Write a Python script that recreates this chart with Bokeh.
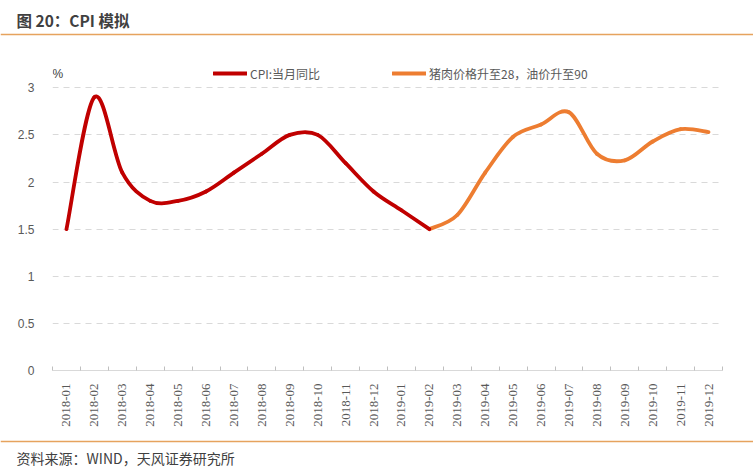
import numpy as np
from bokeh.plotting import figure
from bokeh.layouts import column
from bokeh.models import Range1d, FixedTicker, Label, Legend, LegendItem, Span
from bokeh.embed import file_html
from bokeh.resources import INLINE

# ---------------- data ----------------
months = ["2018-01", "2018-02", "2018-03", "2018-04", "2018-05", "2018-06",
          "2018-07", "2018-08", "2018-09", "2018-10", "2018-11", "2018-12",
          "2019-01", "2019-02", "2019-03", "2019-04", "2019-05", "2019-06",
          "2019-07", "2019-08", "2019-09", "2019-10", "2019-11", "2019-12"]
cpi_actual = [1.5, 2.9, 2.1, 1.8, 1.8, 1.9, 2.1, 2.3, 2.5, 2.5, 2.2, 1.9, 1.7, 1.5]
scenario_start = 13  # scenario starts at 2019-02
cpi_scenario = [1.5, 1.65, 2.1, 2.48, 2.61, 2.74, 2.3, 2.23, 2.43, 2.56, 2.53]
y_ticks = [0, 0.5, 1, 1.5, 2, 2.5, 3]
y_tick_labels = ["0", "0.5", "1", "1.5", "2", "2.5", "3"]
series_names = ["CPI:当月同比", "猪肉价格升至28，油价升至90"]
title_text = "图 20：CPI 模拟"
source_text = "资料来源：WIND，天风证券研究所"
unit_text = "%"

RED = "#C00000"
ORANGE = "#ED7D31"
GRAY_TXT = "#595959"
DARK_TXT = "#404040"
RULE = "#E6A35E"

W = 753
TOP_H, MAIN_H, BOT_H = 40, 396, 36
ML, MR, MT, MB = 52, 31, 19, 66
Y_TOP = 3.3


def blank_fig(h):
    f = figure(width=W, height=h, output_backend="svg", toolbar_location=None,
               x_range=Range1d(0, W), y_range=Range1d(h, 0),
               x_axis_location=None, y_axis_location=None,
               min_border=0, min_border_left=0, min_border_right=0,
               min_border_top=0, min_border_bottom=0)
    f.frame_align = False
    f.outline_line_color = None
    f.grid.visible = False
    f.background_fill_color = "white"
    f.border_fill_color = "white"
    return f


# ---------------- header ----------------
top = blank_fig(TOP_H)
top.add_layout(Label(x=16, y=19, text=title_text, text_font="Noto Sans CJK SC",
                     text_font_size="15.5px", text_font_style="bold", text_color=DARK_TXT,
                     text_baseline="middle", text_align="left"))
top.add_layout(Span(location=34, dimension="width", line_color=RULE, line_width=1.5))

# ---------------- main chart ----------------
p = figure(width=W, height=MAIN_H, output_backend="svg", toolbar_location=None,
           x_range=Range1d(-0.5, len(months) - 0.5), y_range=Range1d(0, Y_TOP),
           min_border_left=ML, min_border_right=MR, min_border_top=MT, min_border_bottom=MB)
p.frame_align = False
p.outline_line_color = None
p.background_fill_color = "white"
p.border_fill_color = "white"


def smooth_segments(xs, ys):
    n = len(xs)
    out = dict(x0=[], y0=[], x1=[], y1=[], cx0=[], cy0=[], cx1=[], cy1=[])
    for i in range(n - 1):
        a = i - 1 if i > 0 else i
        d = i + 2 if i + 2 < n else i + 1
        out["x0"].append(xs[i]); out["y0"].append(ys[i])
        out["x1"].append(xs[i + 1]); out["y1"].append(ys[i + 1])
        out["cx0"].append(xs[i] + (xs[i + 1] - xs[a]) / 6.0)
        out["cy0"].append(ys[i] + (ys[i + 1] - ys[a]) / 6.0)
        out["cx1"].append(xs[i + 1] - (xs[d] - xs[i]) / 6.0)
        out["cy1"].append(ys[i + 1] - (ys[d] - ys[i]) / 6.0)
    return out


xa = list(range(len(cpi_actual)))
xs_ = list(range(scenario_start, scenario_start + len(cpi_scenario)))

r_scen = p.bezier(source=smooth_segments(xs_, cpi_scenario), x0="x0", y0="y0", x1="x1", y1="y1",
                  cx0="cx0", cy0="cy0", cx1="cx1", cy1="cy1",
                  line_color=ORANGE, line_width=3.8, line_cap="round")
r_act = p.bezier(source=smooth_segments(xa, cpi_actual), x0="x0", y0="y0", x1="x1", y1="y1",
                 cx0="cx0", cy0="cy0", cx1="cx1", cy1="cy1",
                 line_color=RED, line_width=3.8, line_cap="round")

# axes
xax = p.xaxis[0]
xax.ticker = FixedTicker(ticks=list(range(len(months))),
                         minor_ticks=[i - 0.5 for i in range(len(months) + 1)])
xax.major_label_overrides = {i: m for i, m in enumerate(months)}
xax.major_label_orientation = np.pi / 2
xax.major_label_text_font = "Liberation Serif"
xax.major_label_text_font_size = "13px"
xax.major_label_text_color = GRAY_TXT
xax.major_label_standoff = 7
xax.major_tick_line_color = None
xax.minor_tick_line_color = "#BFBFBF"
xax.minor_tick_in = 4
xax.minor_tick_out = 0
xax.axis_line_color = "#D9D9D9"
xax.axis_line_width = 1

yax = p.yaxis[0]
yax.ticker = FixedTicker(ticks=y_ticks)
yax.major_label_overrides = {t: l for t, l in zip(y_ticks, y_tick_labels)}
yax.major_label_text_font = "Liberation Sans"
yax.major_label_text_font_size = "12px"
yax.major_label_text_color = GRAY_TXT
yax.major_label_standoff = 12
yax.axis_line_color = None
yax.major_tick_line_color = None
yax.minor_tick_line_color = None

p.xgrid.grid_line_color = None
p.ygrid.ticker = FixedTicker(ticks=[t for t in y_ticks if t > 0])
p.ygrid.grid_line_color = "#D9D9D9"
p.ygrid.grid_line_dash = "6 5"
p.ygrid.grid_line_width = 1

# legends (inside the frame, above the 3 gridline)
leg1 = Legend(items=[LegendItem(label=series_names[0], renderers=[r_act])],
              location=(161, 287), orientation="horizontal")
leg2 = Legend(items=[LegendItem(label=series_names[1], renderers=[r_scen])],
              location=(340, 287), orientation="horizontal")
for lg in (leg1, leg2):
    lg.padding = 0
    lg.margin = 0
    lg.spacing = 0
    lg.glyph_width = 34
    lg.glyph_height = 20
    lg.label_standoff = 3
    lg.label_text_font = "Noto Sans CJK SC"
    lg.label_text_font_size = "12px"
    lg.label_text_color = GRAY_TXT
    lg.border_line_color = None
    lg.background_fill_alpha = 0
    p.add_layout(lg, "center")

# unit label
p.add_layout(Label(x=-0.5, y=3.15, text=unit_text, text_font="Liberation Sans",
                   text_font_size="12px", text_color=DARK_TXT,
                   text_baseline="middle", text_align="left"))

# ---------------- footer ----------------
bot = blank_fig(BOT_H)
bot.add_layout(Span(location=5, dimension="width", line_color=RULE, line_width=1.5))
bot.add_layout(Label(x=16, y=21, text=source_text, text_font="Noto Sans CJK SC",
                     text_font_size="14px", text_color=DARK_TXT,
                     text_baseline="middle", text_align="left"))

layout = column(top, p, bot, spacing=0)
open("out.html", "w").write(file_html(layout, INLINE))
